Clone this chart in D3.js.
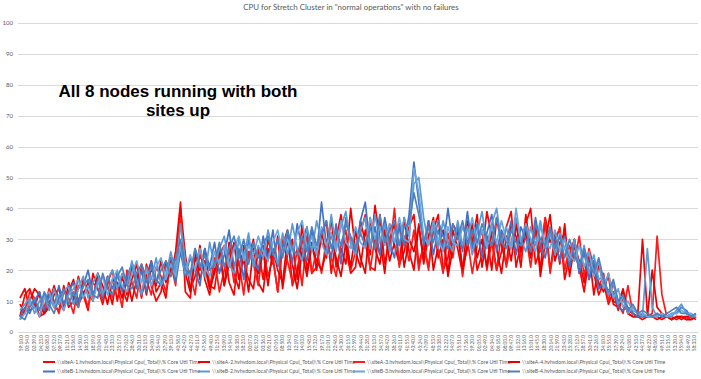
<!DOCTYPE html>
<html>
<head>
<meta charset="utf-8">
<script src="https://cdn.jsdelivr.net/npm/d3@7"></script>
<style>
  body { margin: 0; background: #fff; }
  svg { display: block; }
</style>
</head>
<body>
<svg id="chart" width="701" height="379"></svg>
<script>
// values (% core util time), ~140 samples per node
const siteA1 = [5,12,14,9,5,6,13,8,7,15, 8,10,18,12,7,19,14,9,16,20, 10,18,12,21,19,11,22,15,10,13, 23,18,26,42,13,11,24,20,27,15, 14,25,28,16,12,26,23,17,14,27, 17,30,24,13,28,33,15,20,29,34, 19,21,31,36,19,30,38,27,19,21, 36,29,21,20,38,22,30,35,22,26, 34,38,22,28,21,33,38,20,24,35, 32,21,27,34,20,25,39,31,20,26, 34,39,21,29,35,40,22,27,36,20, 31,33,17,25,30,21,13,24,19,12, 16,9,13,7,11,6,5,5,4,5, 5,5,4,5,5,4,5,5,4,5]
const siteA2 = [11,14,7,8,13,6,9,15,10,7, 16,11,8,17,13,10,19,12,15,9, 19,14,10,17,22,12,18,23,13,16, 11,24,19,40,25,14,18,28,17,12, 21,27,15,29,19,14,28,24,30,16, 13,27,22,31,14,25,30,17,35,20, 29,20,33,24,37,21,27,22,40,26, 21,33,25,41,30,19,35,28,22,37, 26,20,35,22,31,37,24,30,19,33, 27,19,36,29,38,21,31,20,37,28, 22,35,31,21,38,27,33,20,37,29, 32,22,35,18,28,23,16,26,12,22, 15,18,9,8,13,6,5,5,30,6, 5,4,5,5,4,5,4,5,5,4]
const siteA3 = [4,7,13,11,5,8,14,10,6,13, 11,6,15,13,8,16,14,10,18,11, 15,8,20,16,11,22,17,12,21,18, 13,22,15,37,22,19,12,25,21,14, 24,13,20,27,16,23,12,26,22,15, 28,18,24,13,30,23,16,27,15,31, 19,27,19,30,24,18,28,33,20,26, 32,38,20,31,25,36,26,40,21,31, 23,33,20,29,20,35,27,19,32,24, 35,18,30,19,28,33,20,29,20,32, 21,29,36,24,32,21,33,26,37,19, 29,34,20,28,23,31,18,27,21,14, 19,10,16,9,6,15,6,5,6,5, 6,31,12,5,4,5,5,4,5,5]
const siteA4 = [9,6,10,14,12,6,8,12,14,8, 13,17,9,12,16,10,19,15,9,17, 16,11,18,10,17,20,12,21,15,23, 16,20,24,27,19,13,26,17,23,14, 19,27,15,22,29,17,24,13,27,19, 26,15,27,20,16,30,22,14,26,18, 28,23,20,26,32,24,18,29,21,33, 24,19,37,27,22,33,23,29,35,21, 30,26,34,24,36,20,28,33,18,27, 32,20,28,35,24,30,21,34,27,19, 31,23,35,26,33,24,36,18,29,38, 23,29,32,21,30,19,27,17,23,16, 13,19,10,9,14,7,6,5,5,5, 20,8,6,5,4,5,5,4,4,5]
const siteB1 = [5,8,6,10,13,7,12,8,15,9, 13,16,10,15,20,12,17,11,18,14, 19,13,18,22,14,20,13,23,17,15, 21,24,16,26,18,24,20,15,27,21, 29,19,25,33,21,27,17,30,23,20, 31,23,33,21,28,32,22,35,27,23, 33,25,42,28,24,35,22,37,30,26, 36,42,27,34,25,37,29,24,35,28, 38,55,42,28,36,25,33,27,40,28, 34,26,39,27,35,24,32,38,26,33, 29,36,25,34,30,26,37,28,24,33, 30,23,31,21,29,19,26,17,23,14, 16,12,13,8,7,8,6,5,5,5, 5,6,5,5,6,6,8,7,5,6]
const siteB2 = [7,9,11,6,10,12,7,14,9,13, 15,9,14,18,11,16,19,12,17,20, 14,19,15,23,17,12,21,17,24,15, 18,26,19,35,23,17,27,22,18,29, 21,27,31,22,19,30,24,32,21,28, 24,33,26,22,32,25,35,27,23,34, 26,36,29,25,38,27,34,39,28,25, 33,37,27,38,29,35,26,33,28,37, 31,48,50,37,28,34,27,36,29,26, 36,28,34,25,32,39,28,35,40,29, 34,27,37,30,26,34,28,36,27,32, 25,32,27,23,30,21,28,19,25,17, 18,12,16,9,11,6,8,6,5,27, 8,5,6,5,5,7,9,6,5,5]
const siteB3 = [4,6,10,8,5,11,13,8,12,7, 12,14,17,11,15,10,16,18,12,17, 20,15,13,19,23,16,20,15,21,24, 17,22,18,28,19,25,20,27,21,18, 26,22,28,21,27,31,23,28,25,31, 26,23,29,33,25,30,26,32,36,27, 31,25,34,28,32,26,36,29,27,34, 29,27,37,30,34,28,35,29,37,30, 29,53,45,31,28,36,30,26,34,29, 28,34,30,37,28,33,27,34,29,36, 30,27,40,29,35,30,26,34,29,27, 33,26,30,25,23,28,21,26,18,23, 14,19,11,14,8,10,7,6,6,5, 5,5,6,5,6,6,7,6,6,5]
const siteB4 = [5,4,8,11,7,13,9,6,11,14, 9,13,8,15,17,12,11,19,14,12, 18,21,15,14,19,22,16,21,16,20, 23,18,24,30,20,19,27,21,25,20, 22,29,21,27,31,24,30,22,29,24, 29,31,25,30,24,33,27,25,31,26, 34,28,32,36,27,33,28,35,31,27, 32,28,34,27,38,29,33,36,28,34, 35,45,38,29,34,29,36,31,27,35, 30,36,28,33,29,35,30,28,37,29, 27,33,29,28,34,26,35,30,28,34, 27,31,24,30,25,21,27,22,19,24, 17,13,17,10,12,7,9,6,7,6, 5,6,5,6,7,8,6,6,5,6]

const seriesNames = ["\\\\siteA-1.hvhvdom.local\\Physical Cpu(_Total)\\% Core Util Time",
  "\\\\siteA-2.hvhvdom.local\\Physical Cpu(_Total)\\% Core Util Time",
  "\\\\siteA-3.hvhvdom.local\\Physical Cpu(_Total)\\% Core Util Time",
  "\\\\siteA-4.hvhvdom.local\\Physical Cpu(_Total)\\% Core Util Time",
  "\\\\siteB-1.hvhvdom.local\\Physical Cpu(_Total)\\% Core Util Time",
  "\\\\siteB-2.hvhvdom.local\\Physical Cpu(_Total)\\% Core Util Time",
  "\\\\siteB-3.hvhvdom.local\\Physical Cpu(_Total)\\% Core Util Time",
  "\\\\siteB-4.hvhvdom.local\\Physical Cpu(_Total)\\% Core Util Time"]
const seriesColors = ["#ff0000","#f20000","#ff1a1a","#e60000","#4472c4","#5b9bd5","#6aa6dc","#4f81bd"]

const timeLabels = ["59:10.0","00:54.0","02:39.0","04:23.0","06:08.0","07:52.0","09:37.0","11:21.0","13:06.0","14:50.0",
  "16:35.0","18:19.0","20:04.0","21:48.0","23:33.0","25:17.0","27:02.0","28:46.0","30:31.0","32:15.0",
  "34:00.0","35:44.0","37:29.0","39:13.0","40:58.0","42:42.0","44:27.0","46:11.0","47:56.0","49:40.0",
  "51:25.0","53:09.0","54:54.0","56:38.0","58:23.0","00:07.0","01:52.0","03:36.0","05:21.0","07:05.0",
  "08:50.0","10:34.0","12:19.0","14:03.0","15:48.0","17:32.0","19:17.0","21:01.0","22:46.0","24:30.0",
  "26:15.0","27:59.0","29:44.0","31:28.0","33:13.0","34:57.0","36:42.0","38:26.0","40:11.0","41:55.0",
  "43:40.0","45:24.0","47:09.0","48:53.0","50:38.0","52:22.0","54:07.0","55:51.0","57:36.0","59:20.0",
  "01:05.0","02:49.0","04:34.0","06:18.0","08:03.0","09:47.0","11:32.0","13:16.0","15:01.0","16:45.0",
  "18:30.0","20:14.0","21:59.0","23:43.0","25:28.0","27:12.0","28:57.0","30:41.0","32:26.0","34:10.0",
  "35:55.0","37:39.0","39:24.0","41:08.0","42:53.0","44:37.0","46:22.0","48:06.0","49:51.0","51:35.0",
  "53:20.0","55:04.0","56:49.0","58:33.0"]
const yTicks = [0,10,20,30,40,50,60,70,80,90,100]

const allSeries = [siteA1,siteA2,siteA3,siteA4,siteB1,siteB2,siteB3,siteB4]

const plot = {left: 18, right: 698, top: 23, bottom: 332}
const svg = d3.select("#chart")

let x = d3.scaleLinear()//sample index -> px
    .domain([0, siteA1.length-1])
    .range([plot.left+2, plot.right-2]);
let xCat = d3.scaleBand()//category labels
    .domain(timeLabels)
    .range([plot.left, plot.right]);
let y = d3.scaleLinear()
    .domain([0, 100])
    .range([plot.bottom, plot.top]);

// gridlines
svg.append("g")
    .selectAll("line")
    .data(yTicks)
    .enter().append("line")
    .attr("x1", plot.left).attr("x2", plot.right)
    .attr("y1", d => Math.round(y(d))+0.5).attr("y2", d => Math.round(y(d))+0.5)
    .attr("stroke", "#d9d9d9").attr("stroke-width", 1);

// y axis, lines hidden
let yAxis = svg.append("g")
    .attr("transform", "translate(" + plot.left + ",0)")
    .call(d3.axisLeft(y).tickValues(yTicks).tickSize(0).tickPadding(5));
yAxis.select(".domain").remove();
yAxis.selectAll("text")
    .style("font-family", "Lato, 'Open Sans', sans-serif")
    .style("font-size", "6px")
    .attr("fill", "#595959");

// x axis, rotated time labels
let xAxis = svg.append("g")
    .attr("transform", "translate(0," + plot.bottom + ")")
    .call(d3.axisBottom(xCat).tickSize(0).tickPadding(0));
xAxis.select(".domain").remove();
xAxis.selectAll("text")
    .attr("transform", "rotate(-90)")
    .attr("x", -3).attr("y", 0).attr("dy", "0.35em")
    .style("text-anchor", "end")
    .style("font-family", "Lato, 'Open Sans', sans-serif")
    .style("font-size", "4.8px")
    .attr("fill", "#595959");

// series lines
let line = d3.line()
    .x((d, i) => x(i))
    .y(d => y(d));
svg.append("g")
    .selectAll("path")
    .data(allSeries)
    .enter().append("path")
    .attr("d", line)
    .attr("fill", "none")
    .attr("stroke", (d, i) => seriesColors[i])
    .attr("stroke-width", 1.7)
    .attr("stroke-linejoin", "round");

// title
svg.append("text")
    .attr("x", 351).attr("y", 10)
    .attr("text-anchor", "middle")
    .style("font-family", "Lato, 'Open Sans', sans-serif")
    .style("font-size", "7.9px")
    .attr("fill", "#595959")
    .text("CPU for Stretch Cluster in \"normal operations\" with no failures");

// annotation
let note = svg.append("text")
    .attr("text-anchor", "middle")
    .style("font-family", "'Liberation Sans', Arial, sans-serif")
    .style("font-weight", "bold")
    .style("font-size", "17px")
    .attr("fill", "#000");
note.append("tspan").attr("x", 178).attr("y", 97).text("All 8 nodes running with both");
note.append("tspan").attr("x", 178).attr("y", 116).text("sites up");

// legend, 4 per row
let legend = svg.append("g")
    .selectAll("g")
    .data(seriesNames)
    .enter().append("g")
    .attr("transform", (d, i) => "translate(" + (43 + (i % 4) * 155) + "," + (362 + Math.floor(i / 4) * 9.5) + ")");
legend.append("line")
    .attr("x1", 0).attr("x2", 12)
    .attr("stroke", (d, i) => seriesColors[i])
    .attr("stroke-width", 2);
legend.append("text")
    .attr("x", 14).attr("dy", "0.35em")
    .style("font-family", "Lato, 'Open Sans', sans-serif")
    .style("font-size", "5.2px")
    .attr("fill", "#595959")
    .text(d => d);
</script>
</body>
</html>
